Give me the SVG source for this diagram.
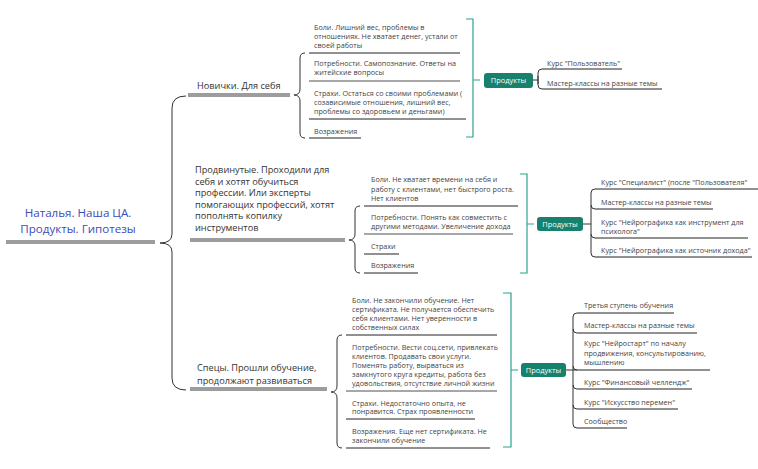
<svg xmlns="http://www.w3.org/2000/svg" width="758" height="469" viewBox="0 0 758 469">
<style>
text{font-family:"Open Sans","Noto Sans","Liberation Sans",sans-serif;}
.root{font-size:11.6px;fill:#3d4cb8;text-anchor:middle;}
.main{font-size:9.2px;fill:#333;}
.sub{font-size:7.2px;fill:#444;}
.pill-t{font-size:7.4px;fill:#fff;text-anchor:middle;}
.dbl{stroke:#3a3a3a;stroke-width:1;fill:none;}
.ul{stroke:#222;stroke-width:1;fill:none;}
.ulg{stroke:#8a8a8a;stroke-width:1.3;fill:none;}
.br{stroke:#333;stroke-width:1;fill:none;}
.gr{stroke:#2aa38c;stroke-width:1.2;fill:none;}
.pill{fill:#16826e;}
</style>
<rect width="758" height="469" fill="#fff"/>

<g id="connectors">
  <path class="br" d="M186 96 Q172 96 172 108 V234 Q172 243 160 243 Q172 243 172 252 V378 Q172 390 186 390"/>
  <path class="br" d="M305 53 Q300 53 300 58 V89 Q300 95 294 95 Q300 95 300 101 V133 Q300 138 305 138"/>
  <path class="br" d="M360 206 Q355 206 355 211 V234 Q355 240 349 240 Q355 240 355 246 V268 Q355 273 360 273"/>
  <path class="br" d="M342 335 Q337 335 337 340 V386 Q337 392 331 392 Q337 392 337 398 V443 Q337 448 342 448"/>
  <path class="gr" d="M466 19 H473 V137 H466 M473 80 H480"/>
  <path class="gr" d="M520 174 H527 V273 H520 M527 224 H534"/>
  <path class="gr" d="M503 293 H511 V447 H503 M511 370 H518"/>
  <path class="br" d="M533 80 H538 M538 84 V73 Q538 69 542 69 M538 76 V85 Q538 89 542 89"/>
  <path class="br" d="M583 224 H591 M591 253 V193 Q591 189 595 189 M591 205 Q591 209 595 209 M591 234 Q591 238 595 238 M591 253 Q591 257 595 257"/>
  <path class="br" d="M566 370 H577 M573 424 V317 Q573 313 577 313 M573 329 Q573 333 577 333 M573 366 Q573 370 577 370 M573 385 Q573 389 577 389 M573 405 Q573 409 577 409 M573 424 Q573 428 577 428"/>
</g>

<g id="root">
  <text class="root" x="78" y="216.5">Наталья. Наша ЦА.</text>
  <text class="root" x="78" y="232.5">Продукты. Гипотезы</text>
  <path class="dbl" d="M6 241 H155 M6 243 H155"/>
</g>

<g id="novichki">
  <text class="main" x="197" y="89">Новички. Для себя</text>
  <path class="dbl" d="M188 94 H290 M188 96 H290"/>
</g>

<g id="prodvinutye">
  <text class="main" x="195" y="173">Продвинутые. Проходили для</text>
  <text class="main" x="195" y="184.5">себя и хотят обучиться</text>
  <text class="main" x="195" y="196">профессии. Или эксперты</text>
  <text class="main" x="195" y="207.5">помогающих профессий, хотят</text>
  <text class="main" x="195" y="219">пополнять копилку</text>
  <text class="main" x="195" y="230.5">инструментов</text>
  <path class="dbl" d="M190 239 H345 M190 241 H345"/>
</g>

<g id="spetsy">
  <text class="main" x="197" y="370.5">Спецы. Прошли обучение,</text>
  <text class="main" x="197" y="383.5">продолжают развиваться</text>
  <path class="dbl" d="M190 388 H327 M190 390 H327"/>
</g>

<g id="g1-boli">
  <text class="sub" x="314" y="30">Боли. Лишний вес, проблемы в</text>
  <text class="sub" x="314" y="39">отношениях. Не хватает денег, устали от</text>
  <text class="sub" x="314" y="48">своей работы</text>
  <path class="ul" d="M309 53 H460"/>
</g>
<g id="g1-potr">
  <text class="sub" x="314" y="66">Потребности. Самопознание. Ответы на</text>
  <text class="sub" x="314" y="75">житейские вопросы</text>
  <path class="ulg" d="M309 81 H460"/>
</g>
<g id="g1-strahi">
  <text class="sub" x="314" y="96">Страхи. Остаться со своими проблемами (</text>
  <text class="sub" x="314" y="105">созависимые отношения, лишний вес,</text>
  <text class="sub" x="314" y="114">проблемы со здоровьем и деньгами)</text>
  <path class="ul" d="M309 119 H466"/>
</g>
<g id="g1-vozr">
  <text class="sub" x="314" y="134">Возражения</text>
  <path class="ul" d="M309 138 H361"/>
</g>

<g id="g1-products">
  <rect class="pill" x="484" y="73" width="49" height="15" rx="3"/>
  <text class="pill-t" x="508.5" y="83.3">Продукты</text>
</g>
<g id="g1-p1">
  <text class="sub" x="547" y="65.5">Курс "Пользователь"</text>
  <path class="ul" d="M542 69 H622"/>
</g>
<g id="g1-p2">
  <text class="sub" x="547" y="85.5">Мастер-классы на разные темы</text>
  <path class="ul" d="M542 89 H662"/>
</g>

<g id="g2-boli">
  <text class="sub" x="371" y="182">Боли. Не хватает времени на себя и</text>
  <text class="sub" x="371" y="191.5">работу с клиентами, нет быстрого роста.</text>
  <text class="sub" x="371" y="200.5">Нет клиентов</text>
  <path class="ul" d="M364 206 H518"/>
</g>
<g id="g2-potr">
  <text class="sub" x="371" y="219.5">Потребности. Понять как совместить с</text>
  <text class="sub" x="371" y="228.5">другими методами. Увеличение дохода</text>
  <path class="ulg" d="M364 234 H513"/>
</g>
<g id="g2-strahi">
  <text class="sub" x="371" y="248.5">Страхи</text>
  <path class="ul" d="M364 254 H399"/>
</g>
<g id="g2-vozr">
  <text class="sub" x="371" y="267.5">Возражения</text>
  <path class="ul" d="M364 273 H418"/>
</g>

<g id="g2-products">
  <rect class="pill" x="537" y="217" width="46" height="14" rx="3"/>
  <text class="pill-t" x="560" y="226.8">Продукты</text>
</g>
<g id="g2-p1">
  <text class="sub" x="601" y="184.5">Курс "Специалист" (после "Пользователя"</text>
  <path class="ul" d="M595 189 H758"/>
</g>
<g id="g2-p2">
  <text class="sub" x="601" y="204.5">Мастер-классы на разные темы</text>
  <path class="ul" d="M595 209 H713"/>
</g>
<g id="g2-p3">
  <text class="sub" x="601" y="224.5">Курс "Нейрографика как инструмент для</text>
  <text class="sub" x="601" y="233.5">психолога"</text>
  <path class="ul" d="M595 238 H748"/>
</g>
<g id="g2-p4">
  <text class="sub" x="601" y="252.5">Курс "Нейрографика как источник дохода"</text>
  <path class="ul" d="M595 257 H752"/>
</g>

<g id="g3-boli">
  <text class="sub" x="352" y="303">Боли. Не закончили обучение. Нет</text>
  <text class="sub" x="352" y="312">сертификата. Не получается обеспечить</text>
  <text class="sub" x="352" y="321">себя клиентами. Нет уверенности в</text>
  <text class="sub" x="352" y="330">собственных силах</text>
  <path class="ul" d="M346 335 H497"/>
</g>
<g id="g3-potr">
  <text class="sub" x="352" y="350">Потребности. Вести соц.сети, привлекать</text>
  <text class="sub" x="352" y="359">клиентов. Продавать свои услуги.</text>
  <text class="sub" x="352" y="368">Поменять работу, вырваться из</text>
  <text class="sub" x="352" y="377">замкнутого круга кредиты, работа без</text>
  <text class="sub" x="352" y="386">удовольствия, отсутствие личной жизни</text>
  <path class="ulg" d="M346 391 H497"/>
</g>
<g id="g3-strahi">
  <text class="sub" x="352" y="405.5">Страхи. Недостаточно опыта, не</text>
  <text class="sub" x="352" y="414">понравится. Страх проявленности</text>
  <path class="ul" d="M346 419 H475"/>
</g>
<g id="g3-vozr">
  <text class="sub" x="352" y="434">Возражения. Еще нет сертификата. Не</text>
  <text class="sub" x="352" y="443">закончили обучение</text>
  <path class="ul" d="M346 448 H490"/>
</g>

<g id="g3-products">
  <rect class="pill" x="521" y="363" width="45" height="14" rx="3"/>
  <text class="pill-t" x="543.5" y="372.8">Продукты</text>
</g>
<g id="g3-p1">
  <text class="sub" x="584" y="307.5">Третья ступень обучения</text>
  <path class="ul" d="M577 313 H674"/>
</g>
<g id="g3-p2">
  <text class="sub" x="584" y="327.5">Мастер-классы на разные темы</text>
  <path class="ul" d="M577 333 H697"/>
</g>
<g id="g3-p3">
  <text class="sub" x="584" y="346">Курс "Нейростарт" по началу</text>
  <text class="sub" x="584" y="355.5">продвижения, консультированию,</text>
  <text class="sub" x="584" y="364.5">мышлению</text>
  <path class="ul" d="M577 370 H710"/>
</g>
<g id="g3-p4">
  <text class="sub" x="584" y="384.5">Курс "Финансовый челлендж"</text>
  <path class="ul" d="M577 389 H692"/>
</g>
<g id="g3-p5">
  <text class="sub" x="584" y="404.5">Курс "Искусство перемен"</text>
  <path class="ul" d="M577 409 H678"/>
</g>
<g id="g3-p6">
  <text class="sub" x="584" y="423.5">Сообщество</text>
  <path class="ul" d="M577 428 H627"/>
</g>
</svg>
